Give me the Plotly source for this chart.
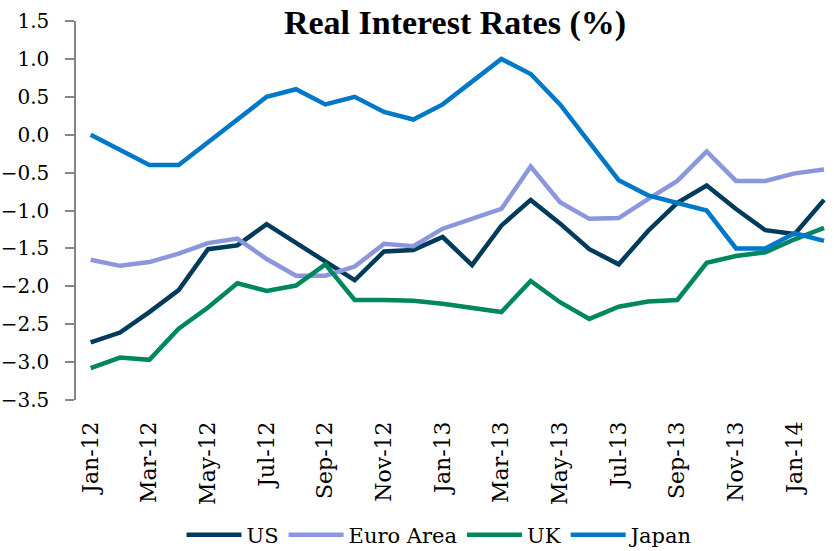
import plotly.graph_objects as go

months = ["Jan-12", "Feb-12", "Mar-12", "Apr-12", "May-12", "Jun-12", "Jul-12", "Aug-12",
          "Sep-12", "Oct-12", "Nov-12", "Dec-12", "Jan-13", "Feb-13", "Mar-13", "Apr-13",
          "May-13", "Jun-13", "Jul-13", "Aug-13", "Sep-13", "Oct-13", "Nov-13", "Dec-13",
          "Jan-14", "Feb-14"]

us = [-2.74, -2.61, -2.34, -2.05, -1.51, -1.46, -1.18, -1.43, -1.68, -1.92, -1.54, -1.52, -1.35,
      -1.72, -1.20, -0.86, -1.17, -1.51, -1.71, -1.27, -0.90, -0.67, -0.98, -1.26, -1.31, -0.86]
euro = [-1.65, -1.73, -1.68, -1.57, -1.43, -1.37, -1.64, -1.86, -1.86, -1.74, -1.44, -1.47, -1.24,
        -1.11, -0.98, -0.42, -0.89, -1.11, -1.10, -0.85, -0.61, -0.22, -0.61, -0.61, -0.51, -0.46]
uk = [-3.08, -2.94, -2.97, -2.56, -2.28, -1.96, -2.06, -1.99, -1.71, -2.18, -2.18, -2.19, -2.23,
      -2.28, -2.34, -1.93, -2.21, -2.43, -2.27, -2.20, -2.18, -1.69, -1.60, -1.55, -1.38, -1.23]
japan = [0.0, -0.2, -0.4, -0.4, -0.1, 0.2, 0.5, 0.6, 0.4, 0.5, 0.3, 0.2, 0.4,
         0.7, 1.0, 0.8, 0.4, -0.1, -0.6, -0.8, -0.9, -1.0, -1.5, -1.5, -1.3, -1.4]

series = [("US", us, "#003B5C"), ("Euro Area", euro, "#8C96DD"),
          ("UK", uk, "#00875F"), ("Japan", japan, "#0078C8")]

x_idx = list(range(len(months)))
tick_idx = x_idx[::2]
tick_labels = months[::2]
boundary_ticks = [i - 0.5 for i in range(0, len(months) + 1, 2)]

FONT = "DejaVu Serif"
gray = "#868686"

fig = go.Figure()
for name, vals, col in series:
    fig.add_trace(go.Scatter(x=x_idx, y=vals, name=name, mode="lines",
                             line=dict(color=col, width=4.5)))

xr = [-0.5, 25.34]
fig.update_layout(
    width=834, height=551,
    margin=dict(l=76, r=0, t=21, b=151, autoexpand=False),
    plot_bgcolor="white", paper_bgcolor="white",
    title=dict(text="<b>Real Interest Rates (%)</b>",
               font=dict(family="Liberation Serif", size=34, color="black"),
               x=455 / 834, xanchor="center", xref="container",
               y=1 - 22 / 551, yanchor="middle", yref="container"),
    xaxis=dict(range=xr, tickvals=tick_idx, ticktext=tick_labels, tickangle=-90,
               showline=False, showgrid=False, zeroline=False, ticks="",
               ticklabelstandoff=16, automargin=False,
               tickfont=dict(family=FONT, size=22, color="black")),
    xaxis2=dict(range=xr, overlaying="x", anchor="free", position=0.7,
                tickvals=boundary_ticks, ticks="outside", ticklen=7, tickwidth=1.5,
                tickcolor=gray, showline=True, linecolor=gray, linewidth=1.5,
                showticklabels=False, showgrid=False, zeroline=False, side="bottom",
                automargin=False),
    yaxis=dict(range=[-3.5, 1.5], dtick=0.5, tickformat=".1f",
               showline=True, linecolor=gray, linewidth=1.5,
               ticks="outside", ticklen=9, tickwidth=1.5, tickcolor=gray,
               showgrid=False, zeroline=False, ticklabelstandoff=12, automargin=False,
               tickfont=dict(family=FONT, size=20, color="black")),
    legend=dict(orientation="h", x=(440 - 76) / 758, xanchor="center",
                y=-(535 - 400) / 379, yanchor="middle",
                font=dict(family=FONT, size=21, color="black"),
                itemwidth=55, tracegroupgap=0),
    showlegend=True,
)

fig.write_html("out.html", config={"displayModeBar": False},
               post_script="document.body.style.margin='0';document.body.style.overflow='hidden';")
